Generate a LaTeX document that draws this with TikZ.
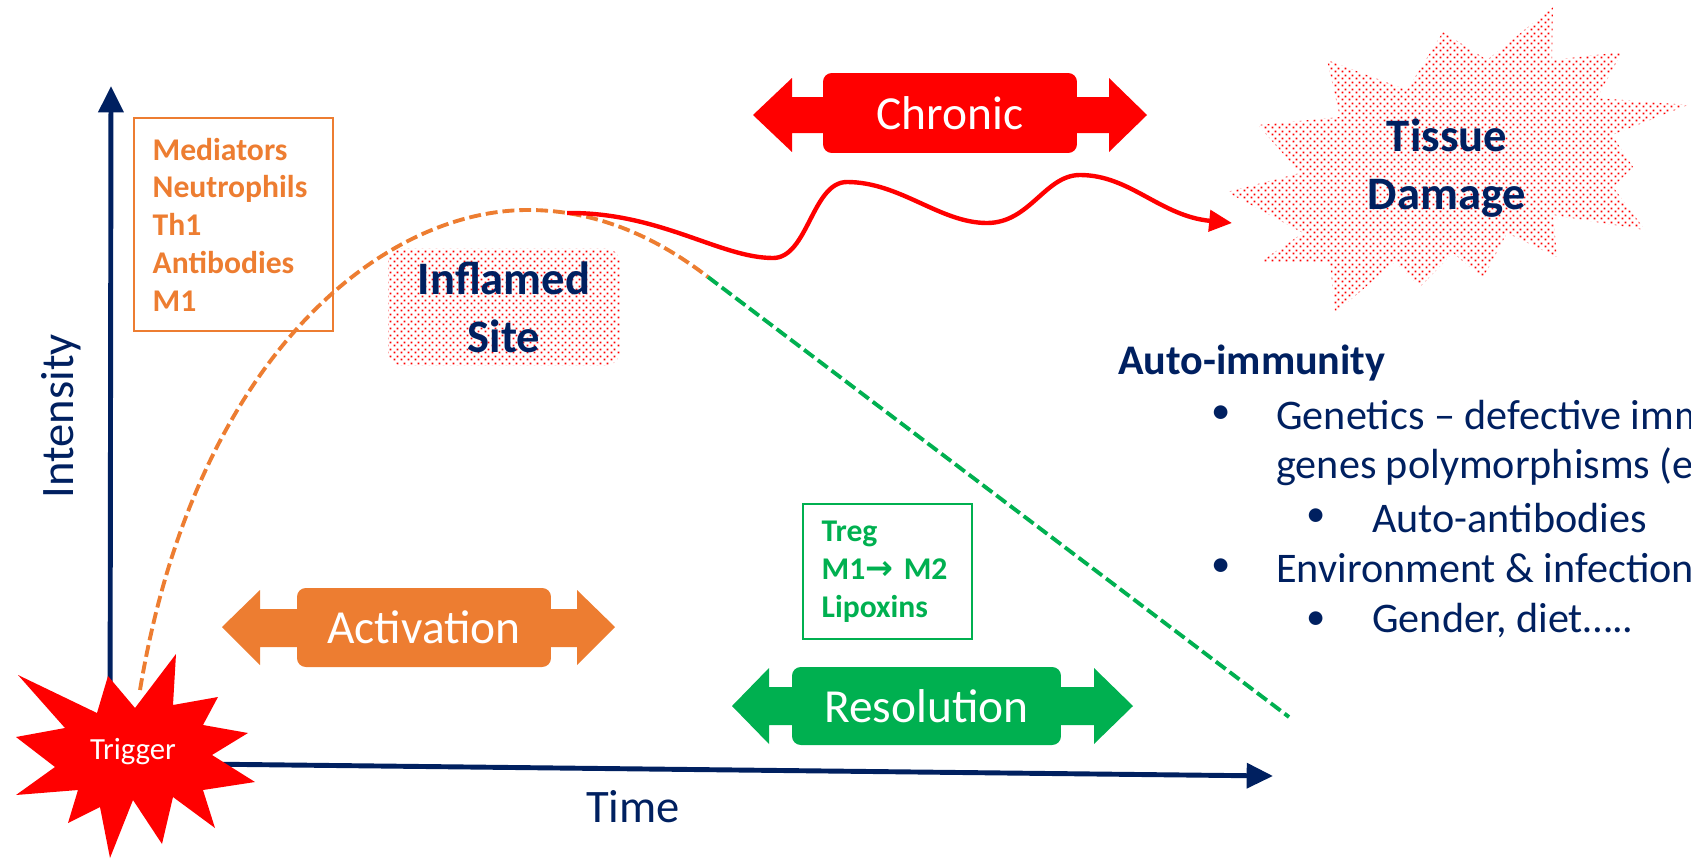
\documentclass[tikz,border=0pt]{standalone}
\usepackage{fontspec}
\setmainfont{Carlito}
\newfontfamily\arrowfont{DejaVu Sans}
\usepackage{tikz}
\usetikzlibrary{arrows.meta,patterns}

\definecolor{navy}{HTML}{002060}
\definecolor{actorange}{HTML}{ED7D31}
\definecolor{resgreen}{HTML}{00B050}

% small square dots, like the office "dotted grid" fill
\pgfdeclarepatternformonly{pixel dots}{\pgfpointorigin}{\pgfqpoint{4pt}{4pt}}{\pgfqpoint{4pt}{4pt}}{%
  \pgfpathrectangle{\pgfqpoint{0.4pt}{0.4pt}}{\pgfqpoint{1.1pt}{1.1pt}}%
  \pgfpathrectangle{\pgfqpoint{2.4pt}{2.4pt}}{\pgfqpoint{1.1pt}{1.1pt}}%
  \pgfusepath{fill}}

\begin{document}
\begin{tikzpicture}[x=0.02cm,y=-0.02cm,
    axis/.style={line width=2.8pt,navy,-{Triangle[length=15pt,width=14pt]}},
    band/.style={rounded corners=5pt,text=white,inner sep=0pt,font=\fontsize{27}{32}\selectfont},
    cell box/.style={draw,line width=1.1pt,inner xsep=10pt,inner ysep=0pt,align=left,font=\fontsize{18}{21.5}\selectfont\bfseries},
    dotted fill/.style={pattern=pixel dots,pattern color=red},
    big label/.style={text=navy,align=center,font=\fontsize{26.5}{33}\selectfont\bfseries},
    list item/.style={anchor=west,text=navy,inner sep=0pt,font=\fontsize{24}{29}\selectfont}]

  \useasboundingbox (0,0) rectangle (1691,859);
  \clip (0,0) rectangle (1691,859);

  % tissue damage burst
  \fill[dotted fill] (1553,7) -- (1552,60) -- (1622,52) -- (1597,98) -- (1688,105)
    -- (1612,135) -- (1633,167) -- (1613,187) -- (1645,230) -- (1553,215)
    -- (1557,257) -- (1507,233) -- (1483,278) -- (1453,253) -- (1420,287)
    -- (1395,262) -- (1335,313) -- (1330,263) -- (1260,262) -- (1303,233)
    -- (1227,192) -- (1300,173) -- (1258,125) -- (1340,117) -- (1327,60)
    -- (1407,90) -- (1443,32) -- (1487,60) -- cycle;
  \node[big label] (damage) at (1447,168) {Tissue\\Damage};

  % inflamed site
  \node[big label,dotted fill,rounded corners=8pt,minimum width=4.64cm,minimum height=2.34cm] (site) at (504,307) {Inflamed\\Site};

  % intensity curve
  \coordinate (start) at (140,690);
  \coordinate (peak) at (528,210);
  \coordinate (turn) at (708,277);
  \coordinate (end) at (1289,717);
  \coordinate (chronicstart) at (567,213);
  \coordinate (damagetip) at (1232,223);
  \draw[actorange,line width=2.2pt,dash pattern=on 6.8pt off 2.8pt]
    (start) .. controls (195,360) and (380,210) .. (peak)
            .. controls (600,210) and (660,240) .. (turn);
  \draw[resgreen,line width=2.2pt,dash pattern=on 7pt off 2.8pt] (turn) -- (end);
  \draw[red,line width=2.5pt,-{Triangle[length=13pt,width=12pt]}]
    (chronicstart) .. controls (660,212) and (720,258) .. (773,258)
                   .. controls (808,258) and (812,182) .. (847,182)
                   .. controls (900,182) and (940,223) .. (987,223)
                   .. controls (1030,223) and (1045,175) .. (1080,175)
                   .. controls (1130,175) and (1160,216) .. (damagetip);

  % axes
  \coordinate (origin) at (110,763);
  \coordinate (ytip) at (111,86);
  \coordinate (xtip) at (1273,776);
  \draw[axis] (origin) -- (ytip);
  \draw[axis] (origin) -- (xtip);
  \node[text=navy,font=\fontsize{26.5}{32}\selectfont] (time) at (633,807) {Time};
  \node[text=navy,font=\fontsize{26.5}{32}\selectfont,rotate=90] (intensity) at (61,416) {Intensity};

  % cell boxes
  \node[cell box,actorange,text width=92pt,minimum width=3.98cm,minimum height=4.26cm] (cells) at (233.5,224.5)
    {Mediators\\Neutrophils\\Th1\\Antibodies\\M1};
  \node[cell box,resgreen,text width=75pt,minimum width=3.38cm,minimum height=2.7cm] (resolvers) at (887.5,571.5)
    {Treg\\M1{\arrowfont\bfseries\fontsize{19}{21.5}\selectfont →} M2\\Lipoxins};

  % phase bands
  \fill[red] (753,115) -- (792,78) -- (792,97) -- (1109,97) -- (1109,78) -- (1147,115)
    -- (1109,152) -- (1109,133) -- (792,133) -- (792,152) -- cycle;
  \node[band,fill=red,minimum width=5.08cm,minimum height=1.6cm] (chronic) at (950,113) {Chronic};
  \fill[actorange] (222,627) -- (260,590) -- (260,609) -- (577,609) -- (577,590) -- (615,627)
    -- (577,665) -- (577,647) -- (260,647) -- (260,665) -- cycle;
  \node[band,fill=actorange,minimum width=5.08cm,minimum height=1.58cm] (activation) at (424,627.5) {Activation};
  \fill[resgreen] (732,706) -- (769,668) -- (769,687) -- (1094,687) -- (1094,668) -- (1133,706)
    -- (1094,744) -- (1094,725) -- (769,725) -- (769,744) -- cycle;
  \node[band,fill=resgreen,minimum width=5.38cm,minimum height=1.56cm] (resolution) at (926.5,706) {Resolution};

  % trigger burst
  \fill[red] (18,675) -- (97,713) -- (108,676) -- (135,708) -- (176,654) -- (173,705)
    -- (218,697) -- (203,725) -- (248,733) -- (212,755) -- (255,782) -- (203,790)
    -- (215,828) -- (173,797) -- (162,844) -- (133,800) -- (110,858) -- (100,807)
    -- (68,823) -- (78,790) -- (16,795) -- (55,767) -- (16,737) -- (65,728) -- cycle;
  \node[text=white,font=\fontsize{17.5}{21}\selectfont] (trigger) at (133,752) {Trigger};

  % auto-immunity notes
  \node[list item,font=\fontsize{24}{29}\selectfont\bfseries] (auto) at (1118,363) {Auto-immunity};
  \foreach \bx/\by [count=\i] in {1221/415,1316/518,1221/568,1316/621}
    \node[text=navy,font=\fontsize{22}{26}\selectfont] (b\i) at (\bx,\by) {•};
  \node[list item] (genetics) at (1276,415) {Genetics – defective immune};
  \node[list item] (genes) at (1276,467) {genes polymorphisms (e.g.};
  \node[list item] (autoab) at (1372,518) {Auto-antibodies};
  \node[list item] (environment) at (1276,568) {Environment \& infections};
  \node[list item] (gender) at (1372,621) {Gender, diet…..};

\end{tikzpicture}
\end{document}
